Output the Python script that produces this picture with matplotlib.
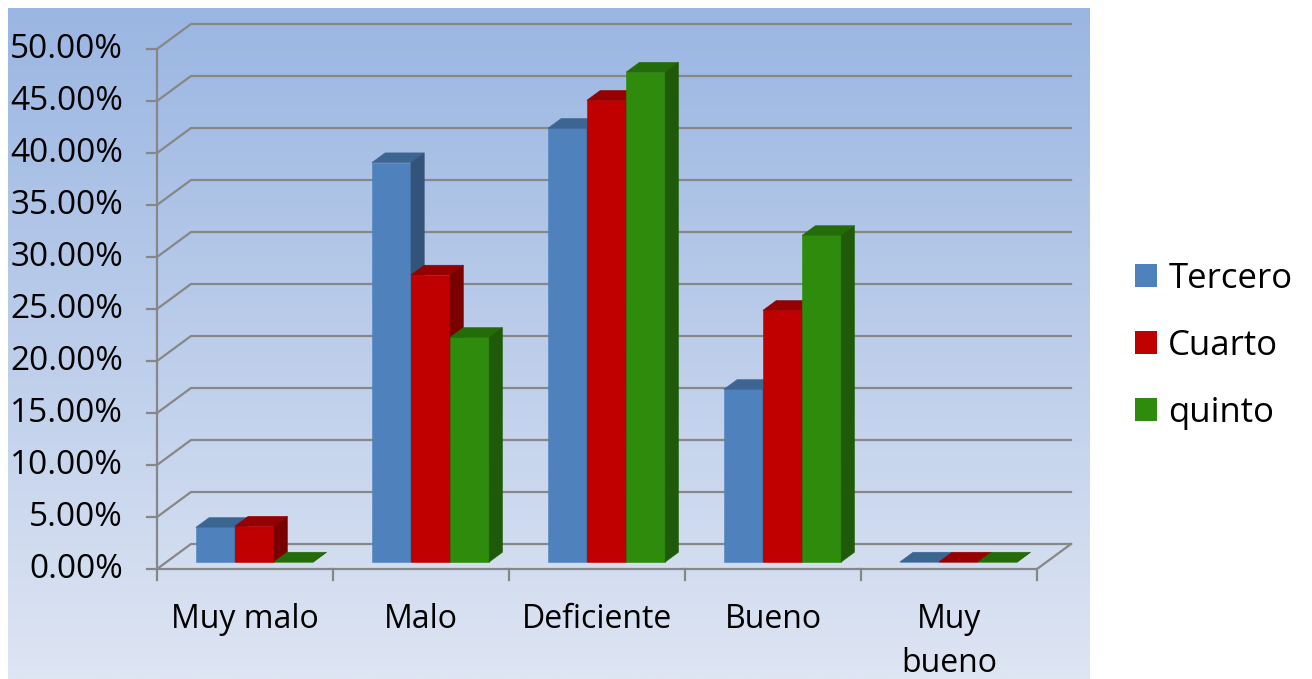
import numpy as np
import matplotlib
matplotlib.use('Agg')
import matplotlib.pyplot as plt
from matplotlib.patches import Polygon, Patch

plt.rcParams['font.family'] = ['Open Sans', 'DejaVu Sans']

# Datos (porcentajes por categoría)
categorias = ['Muy malo', 'Malo', 'Deficiente', 'Bueno', 'Muy\nbueno']
series = ['Tercero', 'Cuarto', 'quinto']
tercero = [3.33, 38.4, 41.7, 16.6, 0.0]
cuarto = [3.45, 27.6, 44.4, 24.2, 0.0]
quinto = [0.0, 21.6, 47.1, 31.4, 0.0]
valores = [tercero, cuarto, quinto]
marcas_y = np.arange(0, 51, 5)

# colores: cara frontal, tapa, lateral
colores = [
    ('#4F81BD', '#3D6592', '#33537A'),
    ('#C00000', '#960000', '#7A0000'),
    ('#2E8B0C', '#246B09', '#1E5A07'),
]

# geometria de la vista 3D (en unidades de datos)
px_cat = 176.0
px_pct = 10.4
DX = 34 / px_cat
DY = 25 / px_pct
d0, d1 = 0.28, 0.67
ancho = 1 / 4.5
n_cat = len(categorias)

fig = plt.figure(figsize=(13.12, 6.79), dpi=100)
ax = fig.add_axes([8 / 1312, 0, 1082 / 1312, 671 / 679])
xlim = ((8 - 157) / px_cat, (1090 - 157) / px_cat)
ylim = ((569 - 679) / px_pct, (569 - 8) / px_pct)
ax.set_xlim(*xlim)
ax.set_ylim(*ylim)
ax.axis('off')

# fondo degradado
sup = np.array([154, 182, 226]) / 255
inf = np.array([222, 229, 243]) / 255
t = np.linspace(0, 1, 256)[:, None, None]
fondo = sup + (inf - sup) * t
ax.imshow(fondo, extent=(*xlim, *ylim), aspect='auto', origin='upper', zorder=0)

gris = '#878787'
lw = 1.6
# lineas de division (pared lateral y pared del fondo)
for v in marcas_y:
    ax.plot([0, DX, n_cat + DX], [v, v + DY, v + DY], color=gris, lw=lw, zorder=1)
    ax.plot([-10 / px_cat, 0], [v, v], color=gris, lw=lw, zorder=1)
    ax.text(-34 / px_cat, v, f'{v:.2f}%', ha='right', va='center', fontsize=24)

# eje vertical y piso
ax.plot([0, 0], [0, marcas_y[-1]], color=gris, lw=lw, zorder=1)
ax.plot([0, n_cat, n_cat + DX], [0, 0, DY], color=gris, lw=lw, zorder=1)
for k in range(n_cat + 1):
    ax.plot([k, k], [0, -11 / px_pct], color=gris, lw=lw, zorder=1)

# barras
z = 2
ox0, oy0 = d0 * DX, d0 * DY
ox1, oy1 = d1 * DX, d1 * DY
for i in range(n_cat):
    for j, serie in enumerate(valores):
        v = serie[i]
        xl = i + (1 - 3 * ancho) / 2 + j * ancho
        xr = xl + ancho
        frente, tapa, lado = colores[j]
        caras = [
            ([(xl + ox0, oy0), (xr + ox0, oy0), (xr + ox0, v + oy0), (xl + ox0, v + oy0)], frente),
            ([(xl + ox0, v + oy0), (xr + ox0, v + oy0), (xr + ox1, v + oy1), (xl + ox1, v + oy1)], tapa),
            ([(xr + ox0, oy0), (xr + ox1, oy1), (xr + ox1, v + oy1), (xr + ox0, v + oy0)], lado),
        ]
        for pts, c in caras:
            ax.add_patch(Polygon(pts, closed=True, facecolor=c, edgecolor=c, lw=0.4, zorder=z))
        z += 1

# etiquetas de categorias
for i, cat in enumerate(categorias):
    ax.text(i + 0.5, (569 - 603) / px_pct, cat, ha='center', va='top', fontsize=23,
            linespacing=1.45)

handles = [Patch(facecolor=colores[j][0], edgecolor='none') for j in range(3)]
fig.legend(handles=handles, labels=series, loc='center left',
           bbox_to_anchor=(1135 / 1312, (679 - 346) / 679), frameon=False,
           fontsize=25, handlelength=0.64, handleheight=0.64, handletextpad=0.32,
           labelspacing=0.95, borderpad=0, borderaxespad=0)

fig.savefig('out.png', dpi=100)
